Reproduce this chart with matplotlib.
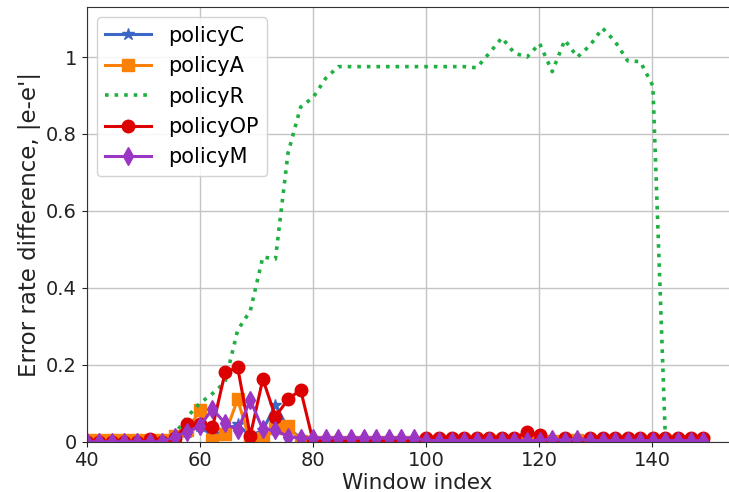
import matplotlib
matplotlib.use("Agg")
import matplotlib.pyplot as plt
from matplotlib.ticker import FuncFormatter

# Window index for each evaluation point
window = [40.0, 42.22, 44.45, 46.67, 48.9, 51.12, 53.35, 55.57, 57.8, 60.02,
          62.24, 64.47, 66.69, 68.92, 71.14, 73.37, 75.59, 77.82, 80.04, 82.27,
          84.49, 86.71, 88.94, 91.16, 93.39, 95.61, 97.84, 100.06, 102.29, 104.51,
          106.73, 108.96, 111.18, 113.41, 115.63, 117.86, 120.08, 122.31, 124.53, 126.76,
          128.98, 131.2, 133.43, 135.65, 137.88, 140.1, 142.33, 144.55, 146.78, 149.0]

policy_c = [0.003, 0.003, 0.003, 0.003, 0.003, 0.003, 0.003, 0.01, 0.025, 0.04,
            0.015, 0.03, 0.045, 0.015, 0.03, 0.095, 0.035, 0.01, 0.003, 0.003,
            0.003, 0.003, 0.003, 0.003, 0.003, 0.003, 0.003, 0.003, 0.003, 0.003,
            0.003, 0.003, 0.003, 0.003, 0.003, 0.003, 0.003, 0.003, 0.003, 0.003,
            0.003, 0.003, 0.003, 0.003, 0.003, 0.003, 0.003, 0.003, 0.003, 0.003]

policy_a = [0.004, 0.004, 0.004, 0.004, 0.004, 0.004, 0.004, 0.015, 0.03, 0.082,
            0.005, 0.02, 0.11, 0.0, 0.01, 0.035, 0.04, 0.003, 0.0, 0.0,
            0.0, 0.0, 0.0, 0.0, 0.0, 0.0, 0.0, 0.002, 0.002, 0.002,
            0.002, 0.002, 0.002, 0.002, 0.002, 0.002, 0.002, 0.002, 0.002, 0.004,
            0.002, 0.002, 0.002, 0.002, 0.002, 0.002, 0.002, 0.002, 0.002, 0.002]

policy_r = [0.0, 0.0, 0.0, 0.0, 0.0, 0.0, 0.005, 0.02, 0.065, 0.10,
            0.125, 0.155, 0.29, 0.34, 0.48, 0.475, 0.75, 0.87, 0.895, 0.945,
            0.975, 0.975, 0.975, 0.975, 0.975, 0.975, 0.975, 0.975, 0.975, 0.975,
            0.975, 0.972, 1.01, 1.05, 1.01, 1.0, 1.035, 0.962, 1.044, 1.0,
            1.03, 1.075, 1.04, 0.99, 0.988, 0.925, 0.0, 0.0, 0.0, 0.0]

policy_op = [0.0, 0.0, 0.0, 0.0, 0.0, 0.006, 0.0, 0.01, 0.045, 0.045,
             0.037, 0.18, 0.193, 0.015, 0.163, 0.065, 0.11, 0.135, 0.0, 0.0,
             0.0, 0.0, 0.0, 0.0, 0.0, 0.0, 0.0, 0.01, 0.01, 0.01,
             0.01, 0.01, 0.01, 0.01, 0.01, 0.025, 0.018, 0.0, 0.01, 0.0,
             0.01, 0.01, 0.01, 0.01, 0.01, 0.01, 0.01, 0.01, 0.01, 0.01]

policy_m = [0.0, 0.0, 0.0, 0.0, 0.0, 0.0, 0.0, 0.013, 0.025, 0.041,
            0.085, 0.048, 0.03, 0.108, 0.032, 0.03, 0.013, 0.01, 0.01, 0.01,
            0.01, 0.01, 0.01, 0.01, 0.01, 0.01, 0.01, 0.003, 0.003, 0.003,
            0.003, 0.003, 0.003, 0.003, 0.003, 0.003, 0.003, 0.008, 0.003, 0.008,
            0.003, 0.003, 0.003, 0.003, 0.003, 0.003, 0.003, 0.003, 0.003, 0.003]

xticks = [40, 60, 80, 100, 120, 140]
yticks = [0, 0.2, 0.4, 0.6, 0.8, 1.0]

W, H = 729, 492
fig = plt.figure(figsize=(W / 100, H / 100), dpi=100)
left_px, bottom_px, top_px = 86.7, 441.7, 7.0
xmin, xmax = 40, 157
px_per_unit = 5.656
ax = fig.add_axes([left_px / W, (H - bottom_px) / H,
                   (xmax - xmin) * px_per_unit / W, (bottom_px - top_px) / H])

ax.grid(True, color="#c4c4c4", linewidth=1.0)
ax.set_axisbelow(True)

ax.plot(window, policy_c, color="#3a68c4", lw=2.2, marker="*", ms=9, label="policyC")
ax.plot(window, policy_a, color="#fb8006", lw=2.2, marker="s", ms=8, label="policyA")
ax.plot(window, policy_r, color="#1fb043", lw=2.6, ls=":", label="policyR")
ax.plot(window, policy_op, color="#dc0000", lw=2.2, marker="o", ms=9, label="policyOP")
ax.plot(window, policy_m, color="#9a35c4", lw=2.2, marker="d", ms=9, label="policyM")

ax.set_xlim(xmin, xmax)
ax.set_ylim(0, 1.13)
ax.set_xticks(xticks)
ax.set_yticks(yticks)
ax.yaxis.set_major_formatter(FuncFormatter(lambda v, p: f"{v:g}"))
ax.tick_params(labelsize=14, colors="#222222")
ax.set_xlabel("Window index", fontsize=15.5, color="#222222", labelpad=2)
ax.set_ylabel("Error rate difference, |e-e'|", fontsize=16.5, color="#222222", labelpad=4)

for s in ax.spines.values():
    s.set_color("#333333")

leg = ax.legend(loc="upper left", fontsize=15, handlelength=2.2, framealpha=0.85)

fig.savefig("out.png", dpi=100)
